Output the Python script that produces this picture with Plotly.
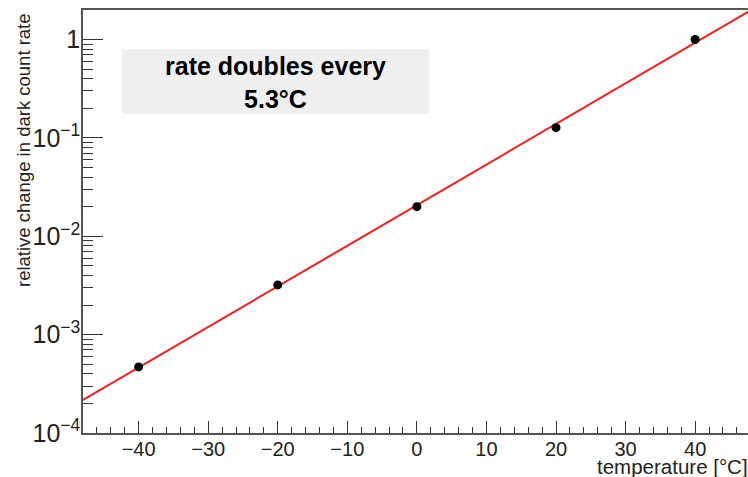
import numpy as np
import plotly.graph_objects as go

# data
temperature = [-40, -20, 0, 20, 40]
rel_change = [4.7e-4, 3.2e-3, 0.020, 0.127, 1.0]

x_range = [-48, 47.6]
y_log_range = [-4, 0.3]
box_text = "<b>rate doubles every<br>5.3\u00b0C</b>"
x_title = "temperature [\u00b0C]"
y_title = "relative change in dark count rate"

# exponential fit (straight line in log space)
slope, intercept = np.polyfit(temperature, np.log10(rel_change), 1)
fit_x = np.array(x_range)
fit_y = 10 ** (intercept + slope * fit_x)

W, H = 748, 477
L, R, T, B = 83, 0, 10, 44
pw, ph = W - L - R, H - T - B

def px_x(p):
    return (p - L) / pw

def px_y(p):
    return (H - B - p) / ph

font = "Liberation Sans, Arial, sans-serif"
axis_col = "#555555"

fig = go.Figure()
fig.add_trace(go.Scatter(x=fit_x, y=fit_y, mode="lines",
                         line=dict(color="#ff1a1a", width=2), showlegend=False))
fig.add_trace(go.Scatter(x=temperature, y=rel_change, mode="markers",
                         marker=dict(color="black", size=9), showlegend=False))

fig.update_layout(
    width=W, height=H,
    margin=dict(l=L, r=R, t=T, b=B),
    paper_bgcolor="white", plot_bgcolor="white",
    font=dict(family=font, size=20, color="#222222"),
    showlegend=False,
)
fig.update_xaxes(
    range=x_range, dtick=10, showgrid=False, zeroline=False,
    showline=True, linecolor=axis_col, linewidth=1.5, mirror=True,
    ticks="inside", ticklen=12, tickcolor="#333333", tickwidth=1.2,
    minor=dict(ticks="inside", ticklen=6, dtick=2, tickcolor="#333333", showgrid=False),
    tickfont=dict(size=20), ticklabelstandoff=-3,
)
fig.update_yaxes(
    type="log", range=y_log_range, dtick=1, showgrid=False, zeroline=False,
    showline=True, linecolor=axis_col, linewidth=1.5,
    exponentformat="power",
    ticks="inside", ticklen=20, tickcolor="#333333", tickwidth=1.2,
    minor=dict(ticks="inside", ticklen=10, dtick="D1", tickcolor="#333333", showgrid=False),
    tickfont=dict(size=20), ticklabelstandoff=-3,
)

# text box
fig.add_shape(type="rect", xref="paper", yref="paper",
              x0=px_x(122), x1=px_x(429), y0=px_y(114), y1=px_y(49),
              fillcolor="#efefef", line=dict(width=0), layer="below")
fig.add_annotation(xref="paper", yref="paper", x=px_x(275.5), y=px_y(82),
                   text=box_text, showarrow=False, xanchor="center", yanchor="middle",
                   font=dict(size=25, color="black"), align="center")

# axis titles
fig.add_annotation(xref="paper", yref="paper", x=px_x(750), y=px_y(466),
                   text=x_title, showarrow=False, xanchor="right", yanchor="middle",
                   font=dict(size=20.5, color="#222222"))
fig.add_annotation(xref="paper", yref="paper", x=px_x(23), y=px_y(11),
                   text=y_title, showarrow=False, textangle=-90,
                   xanchor="center", yanchor="top",
                   font=dict(size=18.5, color="#222222"))

fig.write_html("out.html")
